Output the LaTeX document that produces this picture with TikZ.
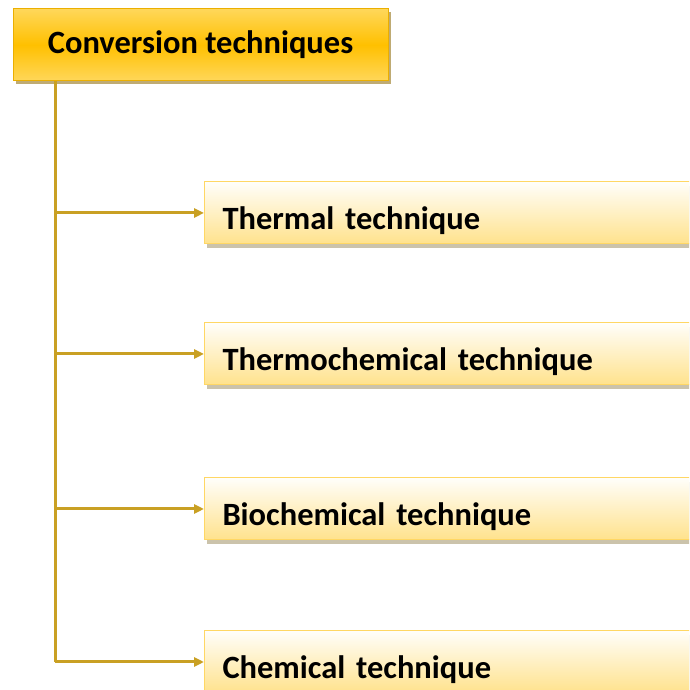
\documentclass[tikz,border=0pt]{standalone}
\usepackage{fontspec}
\setmainfont{Carlito}
\usetikzlibrary{arrows.meta}
\definecolor{linegold}{RGB}{201,160,35}
\definecolor{topA}{RGB}{255,215,90}
\definecolor{topB}{RGB}{255,192,0}
\definecolor{topBorder}{RGB}{235,175,0}
\definecolor{childTop}{RGB}{255,254,250}
\definecolor{childBot}{RGB}{255,226,140}
\definecolor{childBorder}{RGB}{255,215,100}
\definecolor{shadowGold}{RGB}{175,150,80}
\definecolor{shadowGray}{RGB}{190,180,150}
\begin{document}
\begin{tikzpicture}[x=1pt,y=1pt,
  topbox/.style={draw=topBorder,line width=1pt,top color=topA,bottom color=topA,middle color=topB,
    minimum width=375pt,minimum height=72pt,inner sep=0pt,text height=21pt,text depth=3pt,
    font=\fontsize{32.5}{36}\selectfont\bfseries},
  childbox/.style={draw=childBorder,line width=1pt,top color=childTop,bottom color=childBot,
    minimum height=62pt,inner xsep=18pt,inner ysep=0pt,text width=460pt,align=left,anchor=west,
    text height=34pt,text depth=0pt,
    font=\fontsize{32.5}{36}\selectfont\bfseries},
  conn/.style={draw=linegold,line width=3pt},
  arr/.style={conn,-{Triangle[length=10pt,width=9pt]}}
]
\useasboundingbox (0,0) rectangle (689,690);
\clip (0,0) rectangle (689,690);
% shadows
\fill[shadowGold,opacity=0.8] (16,606) rectangle (391,678);
\foreach \yc in {476,335,180,27}{
  \fill[shadowGray,opacity=0.8] (207,\yc-34) rectangle (720,\yc+28);
}
\node[topbox] (top) at (200.5,645) {Conversion techniques};
\node[childbox] (c1) at (204,477) {Thermal technique};
\node[childbox] (c2) at (204,336) {Thermochemical technique};
\node[childbox] (c3) at (204,181) {Biochemical technique};
\node[childbox] (c4) at (204,28) {Chemical technique};
\coordinate (trunk) at (55,0);
\draw[conn] (top.south -| trunk) -- (c4.west -| trunk);
\foreach \c in {c1,c2,c3,c4}{
  \draw[arr] (\c.west -| trunk) -- (\c.west);
}
\end{tikzpicture}
\end{document}
